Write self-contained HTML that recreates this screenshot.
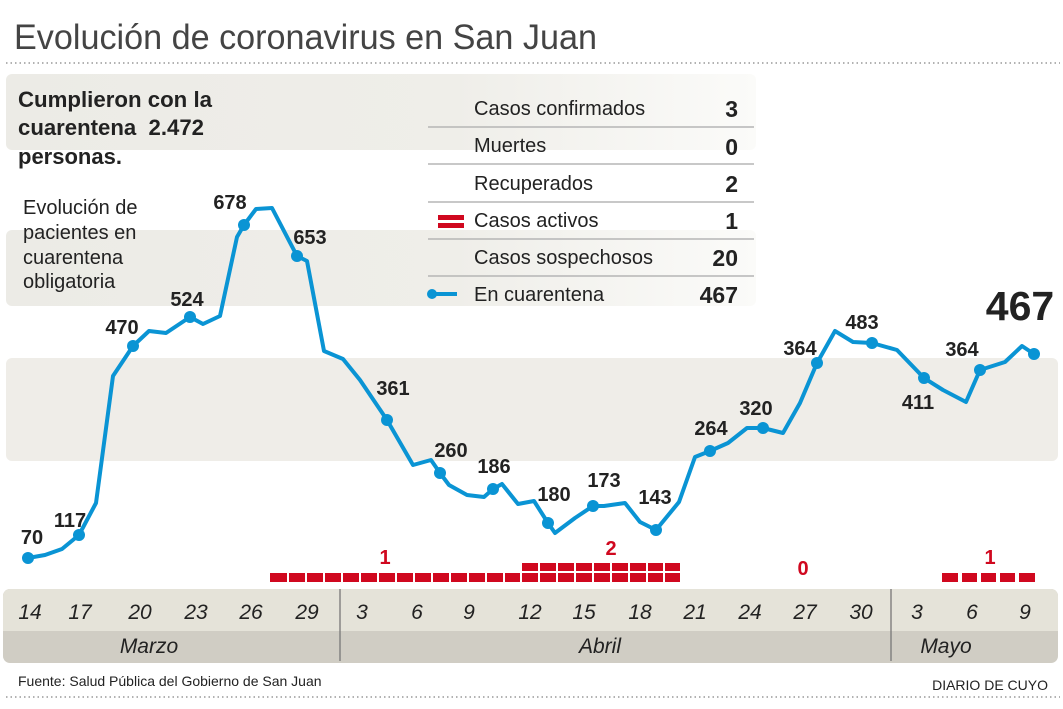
<!DOCTYPE html>
<html><head><meta charset="utf-8"><style>
html,body{margin:0;padding:0;background:#fff}
svg{display:block}
text{font-family:"Liberation Sans",Arial,sans-serif}
.b{font-weight:bold;fill:#222}
.lab{font-size:20px;font-weight:bold;fill:#222;text-anchor:middle}
.tk{font-size:21px;font-style:italic;fill:#222;text-anchor:middle}
.tl{font-size:20px;fill:#222}
.tv{font-size:23px;font-weight:bold;fill:#222;text-anchor:end}
.rd{font-size:20px;font-weight:bold;fill:#d0081f;text-anchor:middle}
</style></head><body>
<svg width="1063" height="709" viewBox="0 0 1063 709" xmlns="http://www.w3.org/2000/svg">
<defs>
<linearGradient id="g1" x1="0" x2="1"><stop offset="0" stop-color="#ecebe6"/><stop offset="0.6" stop-color="#efeee9"/><stop offset="1" stop-color="#fbfbf9"/></linearGradient>
</defs>
<text x="14" y="49" font-size="35" fill="#444" textLength="583" lengthAdjust="spacingAndGlyphs">Evolución de coronavirus en San Juan</text>
<line x1="6" y1="63" x2="1060" y2="63" stroke="#999" stroke-width="1.5" stroke-dasharray="1.5,3"/>
<line x1="6" y1="697" x2="1060" y2="697" stroke="#999" stroke-width="1.5" stroke-dasharray="1.5,3"/>
<rect x="6" y="74" width="750" height="76" rx="6" fill="url(#g1)"/>
<rect x="6" y="230" width="750" height="76" rx="6" fill="url(#g1)"/>
<rect x="6" y="358" width="1052" height="103" rx="6" fill="#efede8"/>
<text x="18" y="107" class="b" font-size="22" textLength="194" lengthAdjust="spacingAndGlyphs">Cumplieron con la</text>
<text x="18" y="135" class="b" font-size="22" textLength="186" lengthAdjust="spacingAndGlyphs" xml:space="preserve">cuarentena  2.472</text>
<text x="18" y="164" class="b" font-size="22">personas.</text>
<g font-size="20" fill="#222">
<text x="23" y="214">Evolución de</text><text x="23" y="239">pacientes en</text><text x="23" y="264">cuarentena</text><text x="23" y="288">obligatoria</text></g>
<g stroke="#b5b5b5" stroke-width="1.5">
<line x1="428" y1="127" x2="754" y2="127"/><line x1="428" y1="164" x2="754" y2="164"/><line x1="428" y1="202" x2="754" y2="202"/><line x1="428" y1="239" x2="754" y2="239"/><line x1="428" y1="276" x2="754" y2="276"/></g>
<text x="474" y="115" class="tl">Casos confirmados</text><text x="738" y="117" class="tv">3</text>
<text x="474" y="152" class="tl">Muertes</text><text x="738" y="155" class="tv">0</text>
<text x="474" y="190" class="tl">Recuperados</text><text x="738" y="192" class="tv">2</text>
<text x="474" y="227" class="tl">Casos activos</text><text x="738" y="229" class="tv">1</text>
<text x="474" y="264" class="tl">Casos sospechosos</text><text x="738" y="266" class="tv">20</text>
<text x="474" y="301" class="tl">En cuarentena</text><text x="738" y="303" class="tv">467</text>
<rect x="438" y="215" width="26" height="5" fill="#d0081f"/><rect x="438" y="223" width="26" height="5" fill="#d0081f"/>
<line x1="432" y1="294" x2="457" y2="294" stroke="#0a94d4" stroke-width="4"/><circle cx="432" cy="294" r="5" fill="#0a94d4"/>
<rect x="3" y="589" width="1055" height="74" rx="7" fill="#d0cdc4"/>
<path d="M10 589 H1051 a7 7 0 0 1 7 7 V631 H3 V596 a7 7 0 0 1 7 -7Z" fill="#e5e3d9"/>
<line x1="340" y1="589" x2="340" y2="661" stroke="#777" stroke-width="1.3"/>
<line x1="891" y1="589" x2="891" y2="661" stroke="#777" stroke-width="1.3"/>
<g><text x="30" y="619" class="tk">14</text><text x="80" y="619" class="tk">17</text><text x="140" y="619" class="tk">20</text><text x="196" y="619" class="tk">23</text><text x="251" y="619" class="tk">26</text><text x="307" y="619" class="tk">29</text><text x="362" y="619" class="tk">3</text><text x="417" y="619" class="tk">6</text><text x="469" y="619" class="tk">9</text><text x="530" y="619" class="tk">12</text><text x="584" y="619" class="tk">15</text><text x="640" y="619" class="tk">18</text><text x="695" y="619" class="tk">21</text><text x="750" y="619" class="tk">24</text><text x="805" y="619" class="tk">27</text><text x="861" y="619" class="tk">30</text><text x="917" y="619" class="tk">3</text><text x="972" y="619" class="tk">6</text><text x="1025" y="619" class="tk">9</text></g>
<text x="149" y="653" class="tk" font-size="20">Marzo</text><text x="600" y="653" class="tk" font-size="20">Abril</text><text x="946" y="653" class="tk" font-size="20">Mayo</text>
<text x="18" y="686" font-size="14" fill="#222">Fuente: Salud Pública del Gobierno de San Juan</text>
<text x="1048" y="690" font-size="14" fill="#222" text-anchor="end">DIARIO DE CUYO</text>
<g fill="#d0081f">
<rect x="270" y="573" width="410" height="9"/>
<rect x="521" y="563" width="159" height="8"/>
</g>
<g stroke="#fff" stroke-width="2">
<line x1="288" y1="560" x2="288" y2="585"/><line x1="306" y1="560" x2="306" y2="585"/><line x1="324" y1="560" x2="324" y2="585"/><line x1="342" y1="560" x2="342" y2="585"/><line x1="360" y1="560" x2="360" y2="585"/><line x1="378" y1="560" x2="378" y2="585"/><line x1="396" y1="560" x2="396" y2="585"/><line x1="414" y1="560" x2="414" y2="585"/><line x1="432" y1="560" x2="432" y2="585"/><line x1="450" y1="560" x2="450" y2="585"/><line x1="468" y1="560" x2="468" y2="585"/><line x1="486" y1="560" x2="486" y2="585"/><line x1="504" y1="560" x2="504" y2="585"/><line x1="521" y1="560" x2="521" y2="585"/><line x1="539" y1="560" x2="539" y2="585"/><line x1="557" y1="560" x2="557" y2="585"/><line x1="575" y1="560" x2="575" y2="585"/><line x1="593" y1="560" x2="593" y2="585"/><line x1="611" y1="560" x2="611" y2="585"/><line x1="629" y1="560" x2="629" y2="585"/><line x1="647" y1="560" x2="647" y2="585"/><line x1="664" y1="560" x2="664" y2="585"/>
<line x1="500" y1="572" x2="690" y2="572"/></g>
<g fill="#d0081f"><rect x="942" y="573" width="16" height="9"/><rect x="962" y="573" width="15" height="9"/><rect x="981" y="573" width="15" height="9"/><rect x="1000" y="573" width="15" height="9"/><rect x="1019" y="573" width="16" height="9"/></g>
<text x="385" y="564" class="rd">1</text><text x="611" y="555" class="rd">2</text><text x="803" y="575" class="rd">0</text><text x="990" y="564" class="rd">1</text>
<polyline fill="none" stroke="#0a94d4" stroke-width="4" stroke-linejoin="round" points="28,558 45,555 62,549 79,535 96,503 113,376 133,346 149,331 166,333 190,317 203,324 220,316 237,237 244,225 256,209 272,208 297,256 307,261 324,351 343,359 360,380 387,420 413,465 431,460 440,473 449,485 467,495 484,497 493,489 502,484 518,504 534,501 548,523 555,533 575,518 593,506 604,506 625,503 640,522 656,530 679,502 695,457 710,451 728,443 747,428 763,428 783,433 800,403 817,363 835,331 853,342 872,343 897,350 924,378 943,390 966,402 980,370 1005,362 1022,346 1034,354"/>
<g fill="#0a94d4"><circle cx="28" cy="558" r="6"/><circle cx="79" cy="535" r="6"/><circle cx="133" cy="346" r="6"/><circle cx="190" cy="317" r="6"/><circle cx="244" cy="225" r="6"/><circle cx="297" cy="256" r="6"/><circle cx="387" cy="420" r="6"/><circle cx="440" cy="473" r="6"/><circle cx="493" cy="489" r="6"/><circle cx="548" cy="523" r="6"/><circle cx="593" cy="506" r="6"/><circle cx="656" cy="530" r="6"/><circle cx="710" cy="451" r="6"/><circle cx="763" cy="428" r="6"/><circle cx="817" cy="363" r="6"/><circle cx="872" cy="343" r="6"/><circle cx="924" cy="378" r="6"/><circle cx="980" cy="370" r="6"/><circle cx="1034" cy="354" r="6"/></g>
<text x="32" y="544" class="lab">70</text><text x="70" y="527" class="lab">117</text><text x="122" y="334" class="lab">470</text><text x="187" y="306" class="lab">524</text><text x="230" y="209" class="lab">678</text><text x="310" y="244" class="lab">653</text><text x="393" y="395" class="lab">361</text><text x="451" y="457" class="lab">260</text><text x="494" y="473" class="lab">186</text><text x="554" y="501" class="lab">180</text><text x="604" y="487" class="lab">173</text><text x="655" y="504" class="lab">143</text><text x="711" y="435" class="lab">264</text><text x="756" y="415" class="lab">320</text><text x="800" y="355" class="lab">364</text><text x="862" y="329" class="lab">483</text><text x="918" y="409" class="lab">411</text><text x="962" y="356" class="lab">364</text>
<text x="1020" y="320" font-size="41" font-weight="bold" fill="#222" text-anchor="middle">467</text>
</svg>
</body></html>
